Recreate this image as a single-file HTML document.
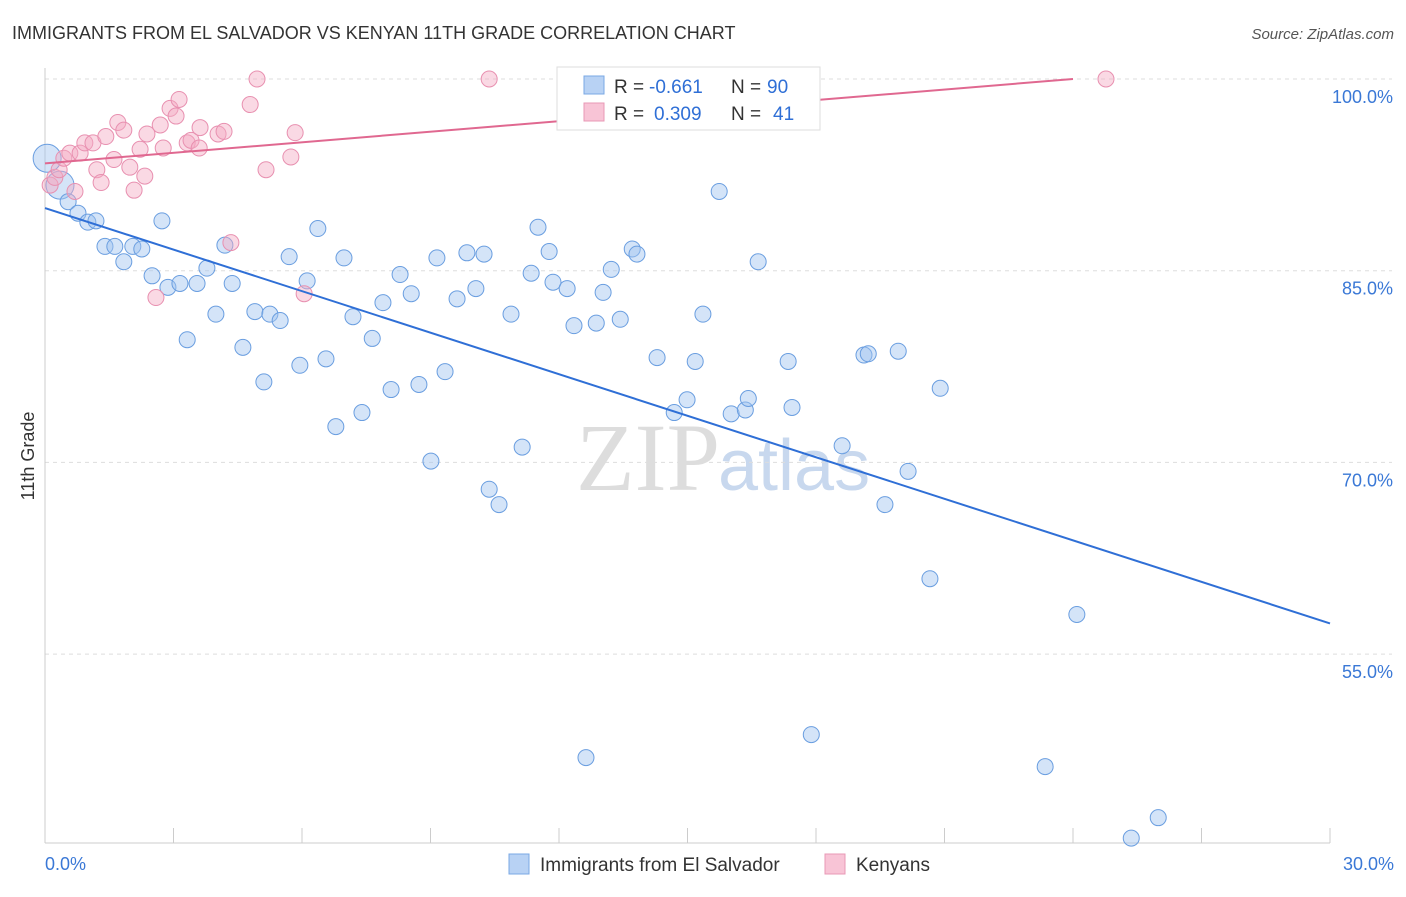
<!DOCTYPE html>
<html><head><meta charset="utf-8"><style>
body{margin:0;background:#fff;font-family:"Liberation Sans",sans-serif;}
</style></head><body>
<svg id="c" width="1406" height="892" xmlns="http://www.w3.org/2000/svg">
<text x="12" y="39" font-size="18" fill="#333">IMMIGRANTS FROM EL SALVADOR VS KENYAN 11TH GRADE CORRELATION CHART</text>
<text x="1394" y="39" font-size="15" fill="#555" font-style="italic" text-anchor="end">Source: ZipAtlas.com</text>
<text x="720" y="490" font-size="96" fill="#ddd" text-anchor="end" font-family="Liberation Serif,serif">ZIP</text>
<text x="718" y="490" font-size="72" fill="#c8d8ee">atlas</text>
<text x="34" y="456" font-size="18" fill="#333" transform="rotate(-90 34 456)" text-anchor="middle">11th Grade</text>
<g id="grid"></g><g id="pts"></g><g id="lines"></g>
<g>
<rect x="557" y="67" width="263" height="63" fill="#fff" stroke="#ddd"/>
<rect x="584" y="76" width="20" height="18" fill="#b8d2f4" stroke="#7aa8e4"/>
<rect x="584" y="103" width="20" height="18" fill="#f8c4d6" stroke="#e898b6"/>
<text x="614" y="93" font-size="19" fill="#333">R =</text>
<text x="649" y="93" font-size="19" fill="#2f6fd6">-0.661</text>
<text x="731" y="93" font-size="19" fill="#333">N =</text>
<text x="767" y="93" font-size="19" fill="#2f6fd6">90</text>
<text x="614" y="120" font-size="19" fill="#333">R =</text>
<text x="654" y="120" font-size="19" fill="#2f6fd6">0.309</text>
<text x="731" y="120" font-size="19" fill="#333">N =</text>
<text x="773" y="120" font-size="19" fill="#2f6fd6">41</text>
</g>
<g>
<rect x="509" y="854" width="20" height="20" fill="#b8d2f4" stroke="#7aa8e4"/>
<text x="540" y="871" font-size="19" fill="#333">Immigrants from El Salvador</text>
<rect x="825" y="854" width="20" height="20" fill="#f8c4d6" stroke="#e898b6"/>
<text x="856" y="871" font-size="19" fill="#333">Kenyans</text>
</g>
</svg>
<script>
const blueX=[.05,.35,.54,.77,1.00,1.19,1.40,1.63,1.84,2.05,2.26,2.50,2.73,2.87,3.15,3.32,3.55,3.78,3.99,4.20,4.37,4.62,4.90,5.11,5.25,5.49,5.70,5.95,6.12,6.37,6.56,6.79,6.98,7.19,7.40,7.64,7.89,8.08,8.29,8.55,8.73,9.01,9.15,9.34,9.62,9.85,10.06,10.25,10.37,10.60,10.88,11.14,11.35,11.51,11.77,11.86,12.19,12.35,12.63,12.87,13.03,13.22,13.43,13.71,13.82,14.29,14.69,14.99,15.18,15.36,15.74,16.02,16.35,16.42,16.65,17.35,17.44,17.89,18.61,19.12,19.22,19.61,19.92,20.15,20.66,20.90,23.35,24.09,25.36,25.99];
const blueY=[93.8,91.7,90.4,89.5,88.8,88.9,86.9,86.9,85.7,86.9,86.7,84.6,88.9,83.7,84.0,79.6,84.0,85.2,81.6,87.0,84.0,79.0,81.8,76.3,81.6,81.1,86.1,77.6,84.2,88.3,78.1,72.8,86.0,81.4,73.9,79.7,82.5,75.7,84.7,83.2,76.1,70.1,86.0,77.1,82.8,86.4,83.6,86.3,67.9,66.7,81.6,71.2,84.8,88.4,86.5,84.1,83.6,80.7,46.9,80.9,83.3,85.1,81.2,86.7,86.3,78.2,73.9,74.9,77.9,81.6,91.2,73.8,74.1,75.0,85.7,77.9,74.3,48.7,71.3,78.4,78.5,66.7,78.7,69.3,60.9,75.8,46.2,58.1,40.6,42.2];
const pinkX=[.12,.23,.33,.44,.58,.70,.82,.93,1.12,1.21,1.31,1.42,1.61,1.70,1.84,1.98,2.08,2.22,2.33,2.38,2.59,2.69,2.76,2.92,3.06,3.13,3.32,3.41,3.60,3.62,4.04,4.18,4.34,4.79,4.95,5.16,5.74,5.84,6.05,10.37,24.77];
const pinkY=[91.7,92.3,92.9,93.8,94.2,91.2,94.2,95.0,95.0,92.9,91.9,95.5,93.7,96.6,96.0,93.1,91.3,94.5,92.4,95.7,82.9,96.4,94.6,97.7,97.1,98.4,95.0,95.2,94.6,96.2,95.7,95.9,87.2,98.0,100,92.9,93.9,95.8,83.2,100,100];
const yTicks=[100,85,70,55];
const blueLine=[89.9,57.4], pinkLine=[93.4,100.0];
const NS='http://www.w3.org/2000/svg';
const sx=v=>45+v/30*1285, sy=v=>79+(100-v)*12.78;
function mk(t,a,p){const e=document.createElementNS(NS,t);for(const k in a)e.setAttribute(k,a[k]);p.appendChild(e);return e;}
const g=document.getElementById('grid');
yTicks.forEach(t=>{
 const l=mk('line',{x1:45,x2:1392,y1:sy(t),y2:sy(t),stroke:'#ddd','stroke-dasharray':'4 4'},g);
 
 
 const tx=mk('text',{x:1393,y:sy(t)+24,'font-size':18,fill:'#3a78d6','text-anchor':'end'},g);
 tx.textContent=t.toFixed(1)+'%';
 
 
});
mk('line',{x1:45,x2:45,y1:68,y2:843,stroke:'#ccc'},g);
mk('line',{x1:45,x2:1330,y1:843,y2:843,stroke:'#ccc'},g);
for(let i=0;i<=10;i++){const x=sx(i*3);const t=mk('line',{x1:x,x2:x,y1:828,y2:843,stroke:'#ccc'},g);
 
 }
const x0=mk('text',{x:45,y:870,'font-size':18,fill:'#3a78d6'},g);x0.textContent='0.0%';


const x1=mk('text',{x:1394,y:870,'font-size':18,fill:'#3a78d6','text-anchor':'end'},g);x1.textContent='30.0%';


const P=document.getElementById('pts');
blueX.forEach((x,i)=>{const c=mk('circle',{cx:sx(x),cy:sy(blueY[i]),r:i<2?14:8,fill:'rgba(160,196,240,0.45)',stroke:'#6a9ee0','stroke-width':1},P);
 
 });
pinkX.forEach((x,i)=>{const c=mk('circle',{cx:sx(x),cy:sy(pinkY[i]),r:8,fill:'rgba(244,170,196,0.45)',stroke:'#e890b0','stroke-width':1},P);
 
 });
const L=document.getElementById('lines');
const bl=mk('line',{x1:sx(0),y1:sy(blueLine[0]),x2:sx(30),y2:sy(blueLine[1]),stroke:'#2f6fd6','stroke-width':2},L);


const pl=mk('line',{x1:sx(0),y1:sy(pinkLine[0]),x2:sx(24),y2:sy(pinkLine[1]),stroke:'#e06890','stroke-width':2},L);


</script>
</body></html>
